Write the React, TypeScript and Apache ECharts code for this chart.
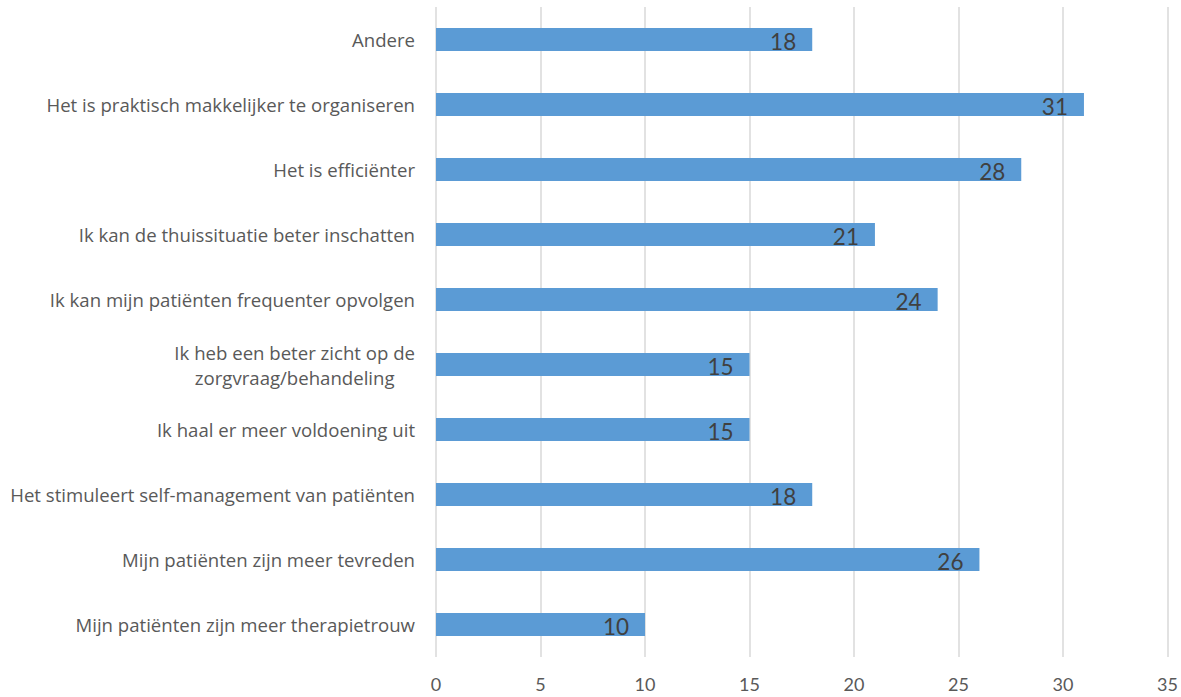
import React, { useEffect, useRef } from "react";
import * as echarts from "echarts";

const categories: string[] = [
  "Andere",
  "Het is praktisch makkelijker te organiseren",
  "Het is efficiënter",
  "Ik kan de thuissituatie beter inschatten",
  "Ik kan mijn patiënten frequenter opvolgen",
  "Ik heb een beter zicht op de\nzorgvraag/behandeling",
  "Ik haal er meer voldoening uit",
  "Het stimuleert self-management van patiënten",
  "Mijn patiënten zijn meer tevreden",
  "Mijn patiënten zijn meer therapietrouw",
];

const values: number[] = [18, 31, 28, 21, 24, 15, 15, 18, 26, 10];

const axisMin = 0;
const axisMax = 35;
const axisInterval = 5;

const FONT = "Lato, 'Open Sans', sans-serif";
const CAT_FONT = "'Open Sans', Lato, sans-serif";

export default function App() {
  const ref = useRef<HTMLDivElement>(null);

  useEffect(() => {
    if (!ref.current) return;
    const chart = echarts.init(ref.current, undefined, { renderer: "svg" });
    chart.setOption({
      animation: false,
      backgroundColor: "#ffffff",
      grid: { left: 436, right: 13, top: 7, height: 650, containLabel: false },
      xAxis: {
        type: "value",
        min: axisMin,
        max: axisMax,
        interval: axisInterval,
        axisLine: { show: false },
        axisTick: { show: false },
        splitLine: { show: true, lineStyle: { color: "#d9d9d9", width: 1.5 } },
        axisLabel: {
          color: "#595959",
          fontFamily: FONT,
          fontSize: 18,
          margin: 18,
        },
      },
      yAxis: {
        type: "category",
        inverse: true,
        data: categories,
        axisLine: { show: false },
        axisTick: { show: false },
        axisLabel: {
          color: "#595959",
          fontFamily: CAT_FONT,
          fontSize: 18.6,
          margin: 21,
          lineHeight: 25,
          formatter: (v: string) =>
            v
              .split("\n")
              .map((line) => `{c|${line}}`)
              .join("\n"),
          rich: {
            c: {
              align: "center",
              color: "#595959",
              fontFamily: CAT_FONT,
              fontSize: 18.6,
              lineHeight: 25,
            },
          },
        },
      },
      series: [
        {
          type: "bar",
          data: values,
          barWidth: 23,
          itemStyle: { color: "#5b9bd5" },
          label: {
            show: true,
            position: "insideRight",
            distance: 16,
            offset: [0, 2],
            color: "#404040",
            fontFamily: FONT,
            fontSize: 22.5,
          },
        },
      ],
    });
    return () => chart.dispose();
  }, []);

  return (
    <div
      ref={ref}
      style={{ position: "fixed", left: 0, top: 0, width: 1181, height: 697 }}
    />
  );
}
